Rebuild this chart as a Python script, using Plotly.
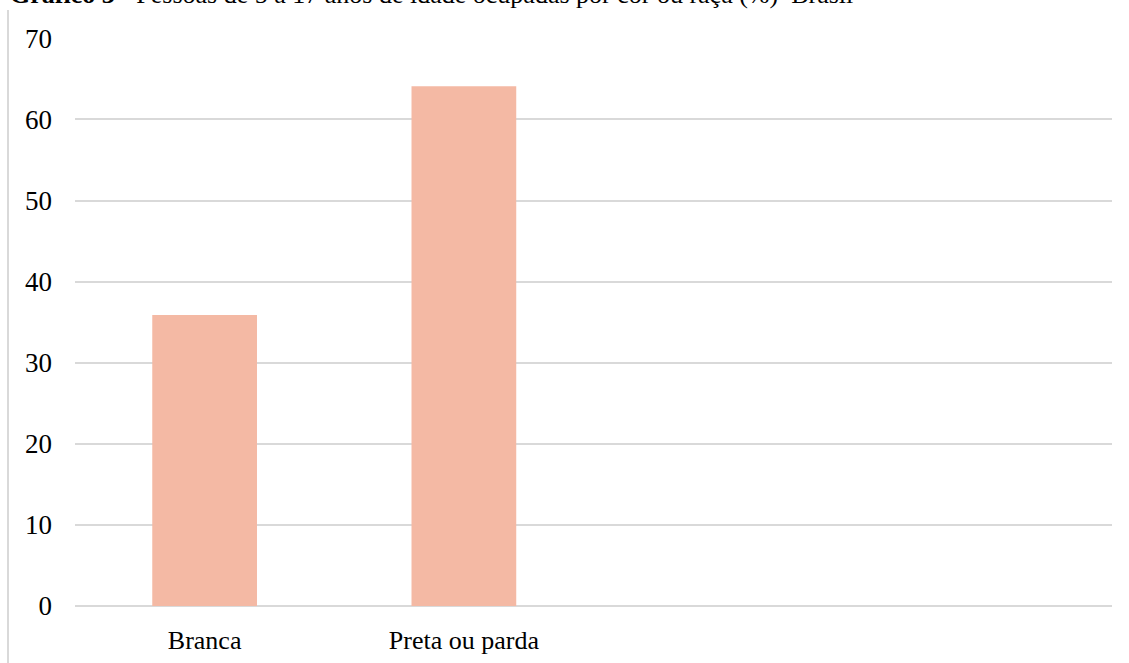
import plotly.graph_objects as go

# Share of employed people aged 5-17 by colour or race (%)
categorias = ["Branca", "Preta ou parda"]
percentuais = [35.9, 64.1]
ticks_y = [0, 10, 20, 30, 40, 50, 60, 70]

fig = go.Figure(
    go.Bar(
        x=categorias,
        y=percentuais,
        marker=dict(color="#f4b9a4", line=dict(width=0)),
        width=0.404,
        hoverinfo="x+y",
    )
)

serif = "Liberation Serif, Times New Roman, serif"
fs = 26

fig.update_layout(
    width=1129,
    height=663,
    margin=dict(l=75, r=17, t=38, b=57),
    paper_bgcolor="white",
    plot_bgcolor="white",
    showlegend=False,
    font=dict(family=serif, size=fs, color="#000000"),
    xaxis=dict(
        type="category",
        range=[-0.5, 3.5],
        automargin=False,
        showgrid=False,
        showline=False,
        zeroline=False,
        ticks="",
        ticklabelstandoff=16,
        tickfont=dict(family=serif, size=fs, color="#000000"),
    ),
    yaxis=dict(
        range=[0, 70.05],
        tickvals=ticks_y,
        automargin=False,
        showgrid=True,
        gridcolor="#d9d9d9",
        gridwidth=1.5,
        zeroline=True,
        zerolinecolor="#d9d9d9",
        zerolinewidth=1.5,
        showline=False,
        ticks="",
        ticklabelstandoff=22,
        tickfont=dict(family=serif, size=27, color="#000000"),
    ),
    annotations=[
        dict(
            text="<b>Gráfico 3</b> - Pessoas de 5 a 17 anos de idade ocupadas por cor ou raça (%)  Brasil",
            xref="paper",
            yref="paper",
            x=(8 - 75) / 1037,
            y=(606 + 5) / 568,
            xanchor="left",
            yanchor="middle",
            showarrow=False,
            font=dict(family=serif, size=fs, color="#000000"),
        )
    ],
    shapes=[
        dict(
            type="line",
            xref="paper",
            yref="paper",
            x0=-67 / 1037,
            x1=-67 / 1037,
            y0=-57 / 568,
            y1=(606 - 10) / 568,
            line=dict(color="#d9d9d9", width=2),
        )
    ],
)

fig.write_html("out.html")
